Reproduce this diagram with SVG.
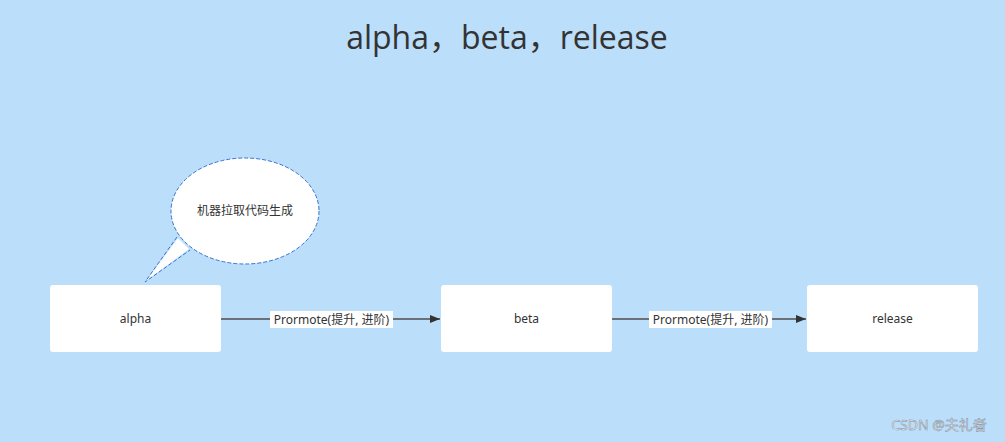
<svg xmlns="http://www.w3.org/2000/svg" width="1005" height="442" viewBox="0 0 1005 442">
<style>
.node{fill:#ffffff;stroke:none}
.nt{font-family:"Noto Sans","Noto Sans CJK SC",sans-serif;font-size:12px;fill:#333333;text-anchor:middle}
.edge{stroke:#6b7178;stroke-width:2;fill:none}
.lbl{font-family:"Noto Sans","Noto Sans CJK SC",sans-serif;font-size:12px;fill:#333333;text-anchor:middle}
.lblbg{fill:#ffffff}
.call{fill:#ffffff;stroke:#3b72cf;stroke-width:1;stroke-dasharray:4 2}
</style>
<defs>
<marker id="arr" viewBox="0 0 10 10" refX="10" refY="5" markerWidth="10" markerHeight="10" markerUnits="userSpaceOnUse" orient="auto">
<path d="M0,1 L10,5 L0,9 Z" fill="#333333"/>
</marker>
</defs>
<rect x="0" y="0" width="1005" height="442" fill="#bbdefb"/>
<text x="507" y="49" font-family="'Open Sans','Noto Sans','Noto Sans CJK SC',sans-serif" font-size="32" fill="#333333" text-anchor="middle">alpha，beta，release</text>
<g id="connectors">
<line class="edge" x1="221" y1="319" x2="440" y2="319" marker-end="url(#arr)"/>
<rect class="lblbg" x="270" y="311" width="123" height="17"/>
<text class="lbl" x="331.5" y="324">Prormote(提升, 进阶)</text>
<line class="edge" x1="612" y1="319" x2="806" y2="319" marker-end="url(#arr)"/>
<rect class="lblbg" x="649" y="311" width="123" height="17"/>
<text class="lbl" x="710.5" y="324">Prormote(提升, 进阶)</text>
</g>
<g id="callout">
<ellipse class="call" cx="245" cy="211" rx="74" ry="53"/>
<path d="M178,238 L146,281 L189,249 Z" fill="#ffffff"/>
<path d="M177,237 L145,282 L190,250" fill="none" stroke="#3b72cf" stroke-width="1" stroke-dasharray="4 2"/>
<text class="nt" x="245" y="215">机器拉取代码生成</text>
</g>
<g id="alpha">
<rect class="node" x="50" y="285" width="171" height="67" rx="3"/>
<text class="nt" x="135.5" y="323">alpha</text>
</g>
<g id="beta">
<rect class="node" x="441" y="285" width="171" height="67" rx="3"/>
<text class="nt" x="526.5" y="323">beta</text>
</g>
<g id="release">
<rect class="node" x="807" y="285" width="171" height="67" rx="3"/>
<text class="nt" x="892.5" y="323">release</text>
</g>
<text x="939" y="430" font-family="'Noto Sans','Noto Sans CJK SC',sans-serif" font-size="14" fill="#f4f7fa" text-anchor="middle" stroke="#7d8894" stroke-width="0.5">CSDN @夫礼者</text>
</svg>
